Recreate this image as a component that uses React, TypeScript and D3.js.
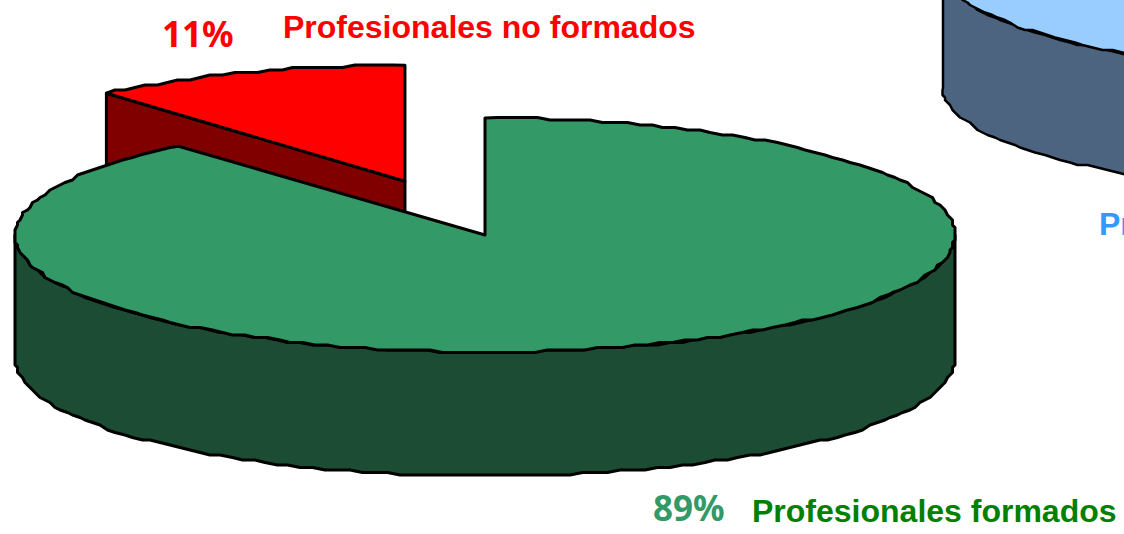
import React, { useEffect, useRef } from 'react';
import * as d3 from 'd3';

// values of the visible pie (labels are the rounded figures)
const categories = ['Profesionales formados', 'Profesionales no formados'];
const shares = [88.7, 11.3];
const shareLabels = ['89%', '11%'];
// second pie, only its front left rim is on the page
const otherShares = [100];
const otherLabel = 'Pr';

const WIDTH = 1124;
const HEIGHT = 534;
const DEG = Math.PI / 180;

type Disc = { cx: number; cy: number; rx: number; ry: number; depth: number };

const mainDisc: Disc = { cx: 485, cy: 235, rx: 470, ry: 117, depth: 124 };
const otherDisc: Disc = { cx: 1413, cy: -32, rx: 470, ry: 108, depth: 120 };
const explode = 0.49;

// the original rim is a coarse polygon snapped to a pixel grid
const GRID = 2.5;
const snap = (v: number) => Math.round(v / GRID) * GRID;

const rim = (d: Disc, a0: number, a1: number, dy = 0): [number, number][] => {
  const x = d3.scaleLinear().domain([-1, 1]).range([d.cx - d.rx, d.cx + d.rx]);
  const y = d3.scaleLinear().domain([-1, 1]).range([d.cy + d.ry, d.cy - d.ry]);
  const n = Math.max(2, Math.ceil(Math.abs(a1 - a0) / (1.6 * DEG)));
  return d3.range(n + 1).map((i) => {
    const a = a0 + ((a1 - a0) * i) / n;
    const px = x(Math.sin(a));
    const py = y(Math.cos(a)) + dy;
    const end = i === 0 || i === n;
    return [end ? px : snap(px), end ? py : snap(py)] as [number, number];
  });
};

const line = d3.line();

export default function App() {
  const svgRef = useRef<SVGSVGElement | null>(null);

  useEffect(() => {
    const svg = d3.select(svgRef.current);
    svg.selectAll('*').remove();

    const pie = d3.pie<number>().sort(null);
    const [formed, notFormed] = pie(shares);

    const shape = (pts: [number, number][], fill: string) =>
      svg
        .append('path')
        .attr('d', line(pts) + 'Z')
        .attr('fill', fill)
        .attr('stroke', '#000')
        .attr('stroke-width', 3)
        .attr('stroke-linejoin', 'round');

    // other pie, top right corner
    const other = pie(otherShares)[0];
    shape(
      [
        ...rim(otherDisc, 90 * DEG, 270 * DEG),
        ...rim(otherDisc, 90 * DEG, 270 * DEG, otherDisc.depth).reverse(),
      ],
      '#4D6480',
    ).attr('stroke-width', 2.5);
    shape(rim(otherDisc, other.startAngle, other.endAngle), '#99CCFF').attr(
      'stroke-width',
      2.5,
    );

    // red slice pulled out along its middle angle
    const mid = (notFormed.startAngle + notFormed.endAngle) / 2;
    const redDisc: Disc = {
      ...mainDisc,
      cx: mainDisc.cx + Math.sin(mid) * explode * mainDisc.rx,
      cy: mainDisc.cy - Math.cos(mid) * explode * mainDisc.ry,
      rx: 458,
      ry: 116,
    };
    const redApex: [number, number] = [redDisc.cx, redDisc.cy];
    const redStart = rim(redDisc, notFormed.startAngle, notFormed.endAngle)[0];
    shape(
      [
        redApex,
        redStart,
        [redStart[0], redStart[1] + redDisc.depth],
        [redApex[0], redApex[1] + redDisc.depth],
      ],
      '#800000',
    );
    shape(
      [redApex, ...rim(redDisc, notFormed.startAngle, notFormed.endAngle)],
      '#FF0000',
    );

    // green slice: front wall, then top
    shape(
      [
        ...rim(mainDisc, 90 * DEG, 270 * DEG),
        ...rim(mainDisc, 90 * DEG, 270 * DEG, mainDisc.depth).reverse(),
      ],
      '#1C4C33',
    );
    shape(
      [
        [mainDisc.cx, mainDisc.cy],
        ...rim(mainDisc, formed.startAngle, formed.endAngle),
      ],
      '#339966',
    );

    // labels
    const label = (
      text: string,
      x: number,
      y: number,
      size: number,
      fill: string,
      family: string,
    ) =>
      svg
        .append('text')
        .attr('x', x)
        .attr('y', y)
        .attr('fill', fill)
        .attr('font-size', size)
        .attr('font-weight', 700)
        .attr('font-family', family)
        .text(text);

    const arial = '"Liberation Sans", Arial, sans-serif';
    const tahoma = '"Noto Sans", "Open Sans", sans-serif';
    label(shareLabels[1], 162, 47, 35, '#FF0000', tahoma);
    label(categories[1], 283, 38, 32, '#FF0000', arial);
    label(shareLabels[0], 653, 521, 35, '#339966', tahoma);
    label(categories[0], 752, 522, 32, '#008000', arial);
    label(otherLabel, 1099, 235, 32, '#3399FF', arial);
  }, []);

  return (
    <svg
      ref={svgRef}
      width={WIDTH}
      height={HEIGHT}
      style={{ position: 'absolute', left: 0, top: 0, background: '#fff' }}
    ></svg>
  );
}
